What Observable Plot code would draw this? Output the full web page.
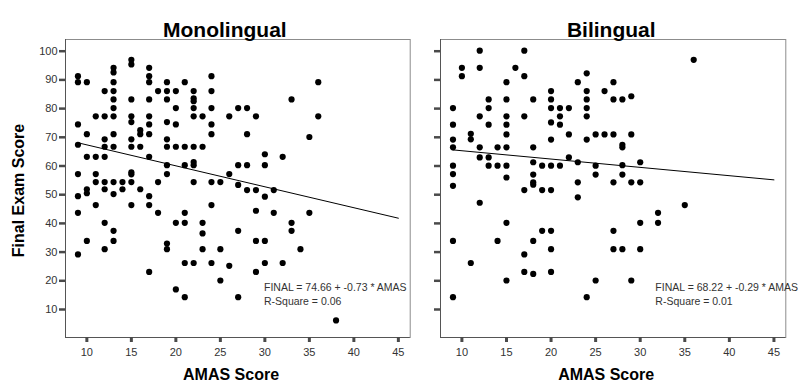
<!DOCTYPE html>
<html><head><meta charset="utf-8">
<script src="https://cdn.jsdelivr.net/npm/d3@7"></script>
<script src="https://cdn.jsdelivr.net/npm/@observablehq/plot@0.6"></script>
<style>
body{margin:0;background:#fff;}
#chart{position:relative;width:801px;height:387px;display:flex;}
#chart svg{display:block;}
</style></head><body><div id="chart"></div>
<script>
const xTicks = [10, 15, 20, 25, 30, 35, 40, 45];
const yTicks = [10, 20, 30, 40, 50, 60, 70, 80, 90, 100];
const panelTitles = ["Monolingual", "Bilingual"];
const xLabel = "AMAS Score";
const yLabel = "Final Exam Score";

// Monolingual: AMAS values and the final-exam scores observed at each
const monoAmas = [9, 10, 11, 12, 13, 14, 15, 16, 17, 18, 19, 20, 21, 22, 23, 24, 25, 26, 27, 28, 29, 30, 31, 32, 33, 34, 35, 36, 38];
const monoFinal = [
  [91.3, 89.2, 74.5, 67.4, 57.2, 49.5, 43.7, 29.2],
  [89.2, 71.1, 63.2, 51.9, 50.5, 33.9],
  [77.3, 63.2, 57.2, 54.4, 46.4],
  [86.1, 77.3, 69.3, 66.7, 63.2, 54.4, 51.9, 40.2, 31.0],
  [94.2, 92.6, 89.2, 86.1, 83.2, 80.2, 77.3, 71.1, 66.7, 54.4, 50.2, 37.4, 33.9],
  [54.4, 51.9],
  [97.0, 95.4, 83.2, 77.3, 75.3, 69.3, 66.7, 57.8, 57.1, 54.4, 46.4],
  [72.5, 71.1, 66.7, 51.9],
  [94.2, 91.3, 89.2, 83.2, 77.3, 74.5, 71.1, 63.2, 49.5, 46.4, 23.1],
  [86.1, 54.4, 43.7],
  [89.2, 86.1, 83.2, 75.3, 69.3, 66.7, 60.3, 57.2, 33.0, 31.0],
  [86.1, 80.2, 74.5, 66.7, 40.2, 17.0],
  [89.2, 66.7, 60.3, 43.7, 40.2, 26.2, 14.3],
  [86.1, 83.6, 82.6, 80.2, 77.3, 66.7, 61.4, 60.3, 54.4, 26.2],
  [77.3, 66.7, 40.2, 36.5, 31.0],
  [91.3, 86.1, 80.2, 74.5, 71.1, 54.4, 46.4, 26.2],
  [54.4, 31.0, 20.1],
  [77.3, 57.2, 25.2],
  [80.2, 60.3, 53.4, 37.4, 14.3],
  [80.2, 71.1, 60.3, 51.6],
  [77.3, 51.6, 44.4, 33.9, 23.1],
  [64.1, 60.3, 49.3, 33.9, 26.2],
  [51.6, 43.7],
  [63.2, 26.2],
  [83.2, 40.2, 37.4],
  [31.0],
  [70.1, 43.7],
  [89.2, 77.3],
  [6.2]
];

// Bilingual
const biAmas = [9, 10, 11, 12, 13, 14, 15, 16, 17, 18, 19, 20, 21, 22, 23, 24, 25, 26, 27, 28, 29, 30, 32, 35, 36];
const biFinal = [
  [80.2, 74.4, 69.2, 66.5, 60.1, 57.2, 53.1, 33.9, 14.3],
  [94.2, 91.3],
  [71.2, 69.3, 26.2],
  [100.2, 94.2, 77.3, 66.5, 63.0, 47.2],
  [83.2, 80.2, 74.4, 63.0, 60.1],
  [66.5, 60.1, 33.9],
  [89.2, 83.2, 77.3, 74.4, 71.0, 66.5, 60.1, 56.0, 40.2, 20.1],
  [94.2],
  [100.2, 91.3, 77.3, 51.6, 29.2, 23.1],
  [83.2, 66.5, 61.3, 57.0, 54.3, 53.5, 33.9, 22.4],
  [60.1, 51.6, 37.4],
  [86.1, 83.2, 80.2, 75.2, 69.2, 60.1, 51.6, 37.4, 31.0, 23.1],
  [80.2, 77.3, 74.4, 60.1],
  [80.2, 71.0, 63.0],
  [89.2, 61.3, 54.3, 49.1],
  [92.3, 86.1, 83.2, 80.2, 77.3, 69.2, 14.3],
  [71.0, 60.1, 57.0, 20.1],
  [86.1, 71.0],
  [89.2, 83.2, 71.0, 54.3, 37.4, 31.0],
  [83.2, 67.4, 66.5, 60.3, 57.0, 31.0],
  [84.3, 71.0, 54.3, 20.1],
  [61.3, 54.3, 40.2, 31.0],
  [43.7, 40.2],
  [46.4],
  [97.0]
];

const fitIntercept = [74.66, 68.22];
const fitSlope = [-0.73, -0.29];
const rSquare = ["0.06", "0.01"];

const FONT = "'Liberation Sans', Arial, Helvetica, sans-serif";
const xDomain = [7.6, 46.33];
const yDomain = [0.24, 104.08];

function panel(i, amas, finals, cfg) {
  const data = amas.flatMap((a, k) => finals[k].map(f => ({amas: a, final: f})));
  const a = fitIntercept[i], b = fitSlope[i];
  const fitData = [d3.min(amas), d3.max(xTicks)].map(x => ({x, y: a + b * x}));
  const eq = `FINAL = ${a.toFixed(2)} + ${b.toFixed(2)} * AMAS\nR-Square = ${rSquare[i]}`;
  const marks = [
    Plot.frame({stroke: "#8c8c8c"}),
    Plot.ruleX([xDomain[0]], {stroke: "#555"}),
    Plot.ruleY([yDomain[0]], {stroke: "#555"}),
    Plot.axisX(xTicks, {tickSize: 5, tickPadding: 6, strokeWidth: 3, stroke: "#4a4a4a", fill: "#333", fontSize: 11, label: null}),
    Plot.axisY(yTicks, {tickSize: 6, tickPadding: 2, strokeWidth: 2.5, stroke: "#4a4a4a", fill: "#333", fontSize: 11, label: null,
      tickFormat: cfg.yLabels ? d => String(d) : () => ""}),
    Plot.line(fitData, {x: "x", y: "y", stroke: "#000", strokeWidth: 1}),
    Plot.dot(data, {x: "amas", y: "final", r: 3.1, fill: "#000"}),
    Plot.text([eq], {text: d => d, x: cfg.eqX, y: 15.5, textAnchor: "start", fontSize: 10.5, lineHeight: 1.27, fill: "#333"}),
    Plot.text([panelTitles[i]], {text: d => d, frameAnchor: "top", dy: -17.4, dx: cfg.titleDx, fontSize: 21, fontWeight: "bold", fill: "#000"}),
    Plot.text([xLabel], {text: d => d, frameAnchor: "bottom", dy: 42, dx: cfg.xLabelDx, fontSize: 16, fontWeight: "bold", fill: "#000"})
  ];
  if (cfg.yLabels) {
    marks.push(Plot.text([yLabel], {text: d => d, frameAnchor: "left", textAnchor: "middle", rotate: -90, dx: -47, dy: 2, fontSize: 16, fontWeight: "bold", fill: "#000"}));
  }
  return Plot.plot({
    width: cfg.width, height: 387,
    marginLeft: cfg.marginLeft, marginRight: cfg.marginRight, marginTop: 39, marginBottom: 50,
    style: {fontFamily: FONT, background: "transparent", overflow: "visible"},
    x: {domain: xDomain}, y: {domain: yDomain},
    marks
  });
}

const chart = document.getElementById("chart");
chart.appendChild(panel(0, monoAmas, monoFinal, {width: 420, marginLeft: 65, marginRight: 10.3, yLabels: true, eqX: 29.9, titleDx: -13, xLabelDx: -6.8}));
chart.appendChild(panel(1, biAmas, biFinal, {width: 381, marginLeft: 20, marginRight: 15.7, yLabels: false, eqX: 31.7, titleDx: -1.9, xLabelDx: -7}));
</script></body></html>
